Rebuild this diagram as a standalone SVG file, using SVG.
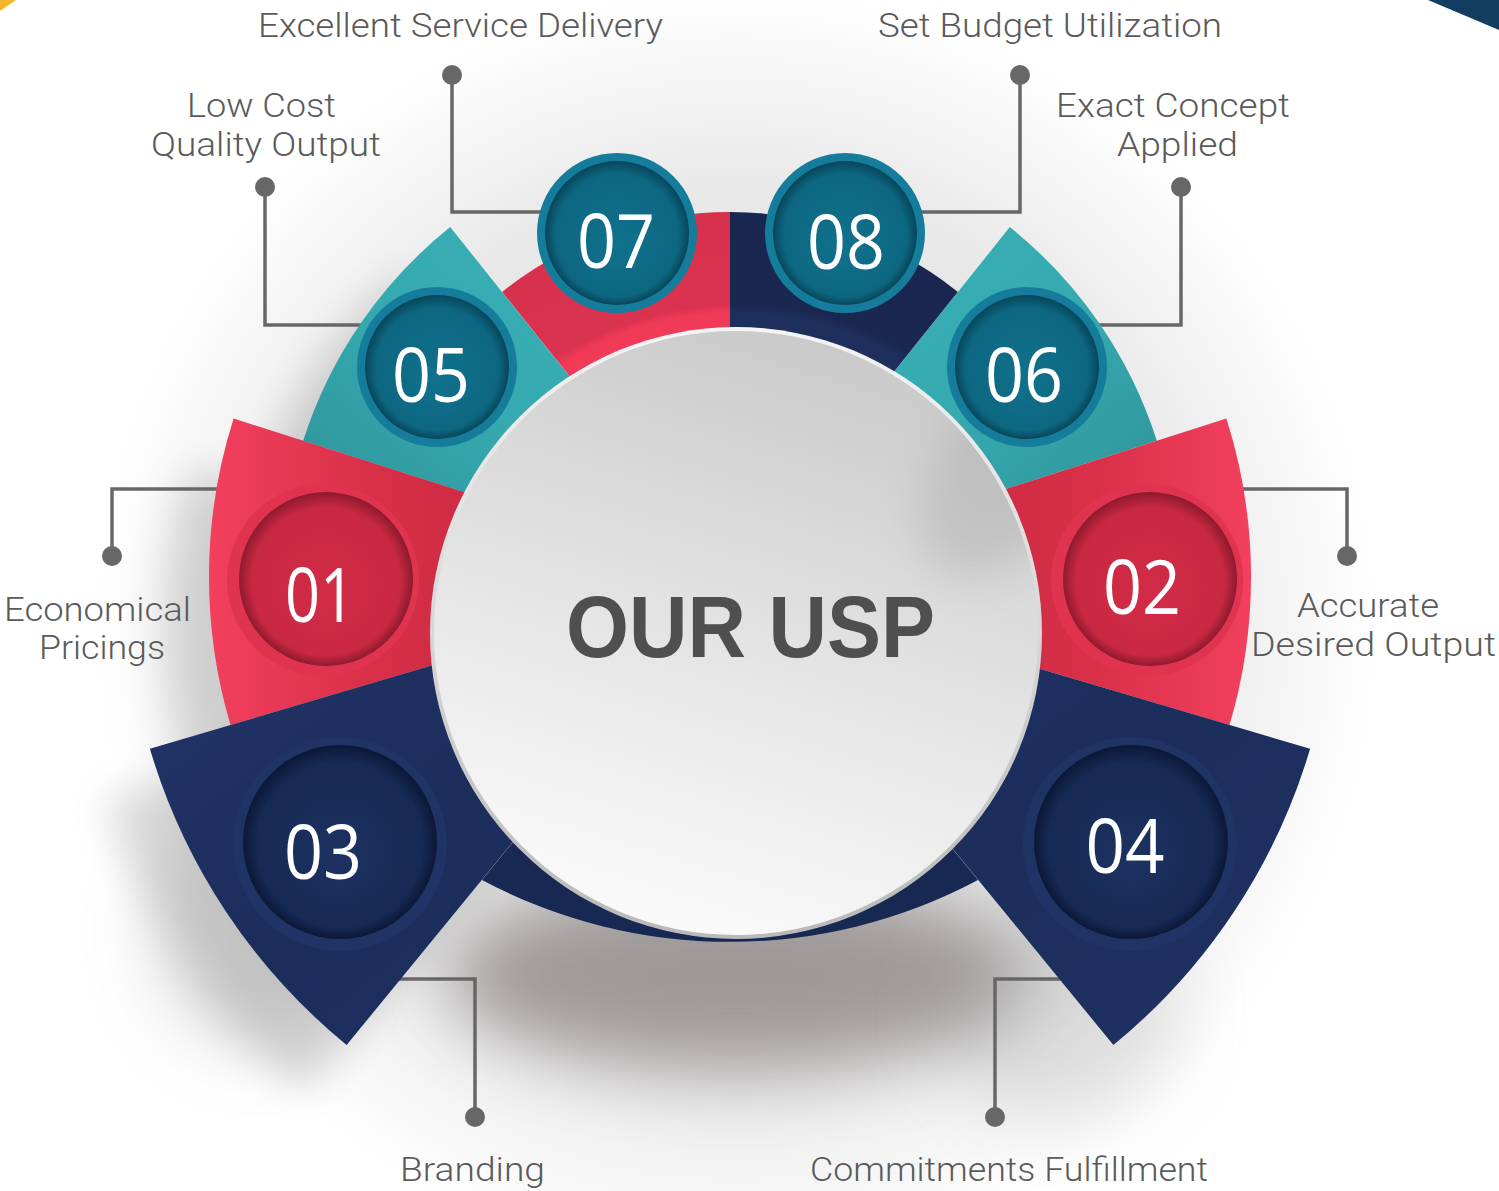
<svg xmlns="http://www.w3.org/2000/svg" width="1499" height="1191" viewBox="0 0 1499 1191">
<style>
.lbl{font-family:Roboto,"Liberation Sans",Arial,sans-serif;font-weight:300;font-size:34px;fill:#5a5a5a;text-anchor:middle}
.num{font-family:"Open Sans","Noto Sans",sans-serif;font-size:75px;fill:#ffffff;text-anchor:middle}
.conn{fill:none;stroke:#676767;stroke-width:3.5}
.dot{fill:#676767}
.title{font-family:"Liberation Sans",Arial,sans-serif;font-weight:bold;font-size:88px;fill:#4f4f4f;text-anchor:middle}
</style>
<defs>
<filter id="blur20" x="-50%" y="-50%" width="200%" height="200%"><feGaussianBlur stdDeviation="20"/></filter>
<filter id="blur35" x="-50%" y="-50%" width="200%" height="200%"><feGaussianBlur stdDeviation="35"/></filter>
<radialGradient id="glow" cx="736" cy="630" r="640" gradientUnits="userSpaceOnUse">
<stop offset="0" stop-color="#d8d8d8"/><stop offset="0.7" stop-color="#e9e9e9"/><stop offset="1" stop-color="#ffffff"/>
</radialGradient>
<linearGradient id="gRed01" x1="0" y1="0" x2="1" y2="0">
<stop offset="0" stop-color="#f2405e"/><stop offset="0.3" stop-color="#d93049"/><stop offset="0.62" stop-color="#c8283f"/><stop offset="0.8" stop-color="#e83554"/><stop offset="1" stop-color="#f03a58"/>
</linearGradient>
<linearGradient id="gRed02" x1="0" y1="0" x2="1" y2="0">
<stop offset="0" stop-color="#f03a58"/><stop offset="0.2" stop-color="#e83554"/><stop offset="0.38" stop-color="#c8283f"/><stop offset="0.7" stop-color="#d93049"/><stop offset="1" stop-color="#f2405e"/>
</linearGradient>
<linearGradient id="gTeal05" x1="1" y1="0" x2="0" y2="1">
<stop offset="0" stop-color="#3ab3b9"/><stop offset="0.55" stop-color="#35a9af"/><stop offset="1" stop-color="#2d8d92"/>
</linearGradient>
<linearGradient id="gTeal06" x1="0" y1="0" x2="1" y2="1">
<stop offset="0" stop-color="#3ab3b9"/><stop offset="0.55" stop-color="#35a9af"/><stop offset="1" stop-color="#2d8d92"/>
</linearGradient>
<linearGradient id="gNavy" x1="0" y1="0" x2="1" y2="1">
<stop offset="0" stop-color="#22366a"/><stop offset="0.5" stop-color="#1b2d5b"/><stop offset="1" stop-color="#1f3262"/>
</linearGradient>
<radialGradient id="gRed07" cx="736" cy="633" r="421" gradientUnits="userSpaceOnUse">
<stop offset="0.76" stop-color="#f03a58"/><stop offset="0.78" stop-color="#da334f"/><stop offset="1" stop-color="#d6304c"/>
</radialGradient>
<radialGradient id="gNavy08" cx="736" cy="633" r="421" gradientUnits="userSpaceOnUse">
<stop offset="0.76" stop-color="#1f2f5d"/><stop offset="0.78" stop-color="#1a2851"/><stop offset="1" stop-color="#182650"/>
</radialGradient>
<radialGradient id="gBTeal" cx="0.5" cy="0.5" r="0.5" fx="0.5" fy="0.6">
<stop offset="0" stop-color="#10718c"/><stop offset="0.85" stop-color="#0d6781"/><stop offset="1" stop-color="#07465b"/>
</radialGradient>
<radialGradient id="gBRed" cx="0.5" cy="0.5" r="0.5" fx="0.5" fy="0.6">
<stop offset="0" stop-color="#d22c47"/><stop offset="0.85" stop-color="#c92842"/><stop offset="1" stop-color="#8e1a2e"/>
</radialGradient>
<radialGradient id="gBNavy" cx="0.5" cy="0.5" r="0.5" fx="0.5" fy="0.6">
<stop offset="0" stop-color="#1d3262"/><stop offset="0.85" stop-color="#172a55"/><stop offset="1" stop-color="#0b1836"/>
</radialGradient>
<linearGradient id="gRim" x1="0" y1="0" x2="0" y2="1">
<stop offset="0" stop-color="#f4f4f4"/><stop offset="1" stop-color="#b9b9b9"/>
</linearGradient>
<linearGradient id="gCenter" x1="0.65" y1="0" x2="0.35" y2="1">
<stop offset="0" stop-color="#c9c9c9"/><stop offset="0.5" stop-color="#e3e3e3"/><stop offset="1" stop-color="#fbfbfb"/>
</linearGradient>
<clipPath id="clipCenter"><circle cx="736" cy="633" r="302"/></clipPath>
</defs>

<rect x="0" y="0" width="1499" height="1191" fill="#ffffff"/>
<polygon points="0,0 16,0 0,11" fill="#f6b42a"/>
<polygon points="1428,0 1499,0 1499,30" fill="#133c61"/>

<g id="shadows">
<circle cx="736" cy="630" r="640" fill="url(#glow)"/>
<g transform="translate(-45,50)" opacity="0.14" filter="url(#blur20)">
<path d="M730,577 L346.6,1045 A605,605 0 0 1 149.9,748.8 Z M730,577 L230.5,725 A521,521 0 0 1 233.6,418.6 Z M730,577 L303.2,440.8 A448,448 0 0 1 450.2,227.1 Z"/>
</g>
<ellipse cx="736" cy="975" rx="290" ry="95" fill="#6f6866" opacity="0.6" filter="url(#blur35)"/>
<ellipse cx="250" cy="930" rx="100" ry="120" fill="#9a9a9a" opacity="0.3" filter="url(#blur35)"/>
<ellipse cx="1060" cy="1010" rx="120" ry="110" fill="#9a9a9a" opacity="0.25" filter="url(#blur35)"/>
</g>

<g id="connectors">
<polyline class="conn" points="452,75 452,212 560,212"/>
<circle class="dot" cx="452" cy="75" r="10"/>
<polyline class="conn" points="265,187 265,325 380,325"/>
<circle class="dot" cx="265" cy="187" r="10"/>
<polyline class="conn" points="1020,75 1020,212 910,212"/>
<circle class="dot" cx="1020" cy="75" r="10"/>
<polyline class="conn" points="1181,187 1181,325 1090,325"/>
<circle class="dot" cx="1181" cy="187" r="10"/>
<polyline class="conn" points="112,556 112,489 230,489"/>
<circle class="dot" cx="112" cy="556" r="10"/>
<polyline class="conn" points="1347,556 1347,489 1230,489"/>
<circle class="dot" cx="1347" cy="556" r="10"/>
<polyline class="conn" points="475,1117 475,979 380,979"/>
<circle class="dot" cx="475" cy="1117" r="10"/>
<polyline class="conn" points="995,1117 995,979 1080,979"/>
<circle class="dot" cx="995" cy="1117" r="10"/>
</g>

<g id="ring-backdrop">
<path d="M730,577 L482,880 A528,528 0 0 0 978,880 Z" fill="#172852"/>
</g>

<g id="node-07">
<path d="M730,577 L502.1,291.9 A365,365 0 0 1 730,212 Z" fill="url(#gRed07)"/>
<circle cx="617" cy="233" r="80" fill="#157d9b"/>
<circle cx="617" cy="233" r="72" fill="url(#gBTeal)"/>
<text class="num" x="616" y="268" textLength="78" lengthAdjust="spacingAndGlyphs">07</text>
<text class="lbl" x="460.5" y="37" textLength="405" lengthAdjust="spacingAndGlyphs">Excellent Service Delivery</text>
</g>

<g id="node-08">
<path d="M730,577 L730,212 A365,365 0 0 1 957.9,291.9 Z" fill="url(#gNavy08)"/>
<circle cx="845" cy="233" r="80" fill="#157d9b"/>
<circle cx="845" cy="233" r="72" fill="url(#gBTeal)"/>
<text class="num" x="846" y="269" textLength="78" lengthAdjust="spacingAndGlyphs">08</text>
<text class="lbl" x="1050" y="37" textLength="344" lengthAdjust="spacingAndGlyphs">Set Budget Utilization</text>
</g>

<g id="node-05">
<path d="M730,577 L303.2,440.8 A448,448 0 0 1 450.2,227.1 Z" fill="url(#gTeal05)"/>
<circle cx="437" cy="367" r="80" fill="#157d9b"/>
<circle cx="437" cy="367" r="72" fill="url(#gBTeal)"/>
<text class="num" x="431" y="402" textLength="78" lengthAdjust="spacingAndGlyphs">05</text>
<text class="lbl" x="261.5" y="117" textLength="149" lengthAdjust="spacingAndGlyphs">Low Cost</text>
<text class="lbl" x="266" y="156" textLength="230" lengthAdjust="spacingAndGlyphs">Quality Output</text>
</g>

<g id="node-06">
<path d="M730,577 L1009.8,227.1 A448,448 0 0 1 1156.8,440.8 Z" fill="url(#gTeal06)"/>
<circle cx="1027" cy="367" r="80" fill="#157d9b"/>
<circle cx="1027" cy="367" r="72" fill="url(#gBTeal)"/>
<text class="num" x="1024" y="402" textLength="78" lengthAdjust="spacingAndGlyphs">06</text>
<text class="lbl" x="1173" y="117" textLength="234" lengthAdjust="spacingAndGlyphs">Exact Concept</text>
<text class="lbl" x="1177.5" y="156" textLength="121" lengthAdjust="spacingAndGlyphs">Applied</text>
</g>

<g id="node-01">
<path d="M730,577 L230.5,725 A521,521 0 0 1 233.6,418.6 Z" fill="url(#gRed01)"/>
<circle cx="323" cy="580" r="96" fill="#e03350"/>
<circle cx="326" cy="579" r="87" fill="url(#gBRed)"/>
<text class="num" x="320" y="622" textLength="70" lengthAdjust="spacingAndGlyphs">01</text>
<text class="lbl" x="97.5" y="621" textLength="187" lengthAdjust="spacingAndGlyphs">Economical</text>
<text class="lbl" x="102" y="659" textLength="126" lengthAdjust="spacingAndGlyphs">Pricings</text>
</g>

<g id="node-02">
<path d="M730,577 L1226.4,418.6 A521,521 0 0 1 1229.5,725 Z" fill="url(#gRed02)"/>
<circle cx="1147" cy="580" r="96" fill="#e03350"/>
<circle cx="1150" cy="579" r="87" fill="url(#gBRed)"/>
<text class="num" x="1142" y="614" textLength="78" lengthAdjust="spacingAndGlyphs">02</text>
<text class="lbl" x="1368" y="617" textLength="142" lengthAdjust="spacingAndGlyphs">Accurate</text>
<text class="lbl" x="1373.5" y="656" textLength="245" lengthAdjust="spacingAndGlyphs">Desired Output</text>
</g>

<g id="node-03">
<path d="M730,577 L346.6,1045 A605,605 0 0 1 149.9,748.8 Z" fill="url(#gNavy)"/>
<circle cx="340" cy="844" r="107" fill="#1f3365"/>
<circle cx="340" cy="842" r="97" fill="url(#gBNavy)"/>
<text class="num" x="323" y="879" textLength="78" lengthAdjust="spacingAndGlyphs">03</text>
<text class="lbl" x="472.5" y="1181" textLength="145" lengthAdjust="spacingAndGlyphs">Branding</text>
</g>

<g id="node-04">
<path d="M730,577 L1310.1,748.8 A605,605 0 0 1 1113.4,1045 Z" fill="url(#gNavy)"/>
<circle cx="1130" cy="844" r="107" fill="#1f3365"/>
<circle cx="1131" cy="842" r="97" fill="url(#gBNavy)"/>
<text class="num" x="1125" y="873" textLength="79" lengthAdjust="spacingAndGlyphs">04</text>
<text class="lbl" x="1009" y="1181" textLength="398" lengthAdjust="spacingAndGlyphs">Commitments Fulfillment</text>
</g>

<g id="center">
<circle cx="736" cy="633" r="306" fill="url(#gRim)"/>
<circle cx="736" cy="633" r="302" fill="url(#gCenter)"/>
<g clip-path="url(#clipCenter)">
<ellipse cx="1010" cy="470" rx="70" ry="120" transform="rotate(35 1010 470)" fill="#9a9a9a" opacity="0.3" filter="url(#blur20)"/>
</g>
<text class="title" x="750.5" y="657" textLength="369" lengthAdjust="spacingAndGlyphs">OUR USP</text>
</g>
</svg>
